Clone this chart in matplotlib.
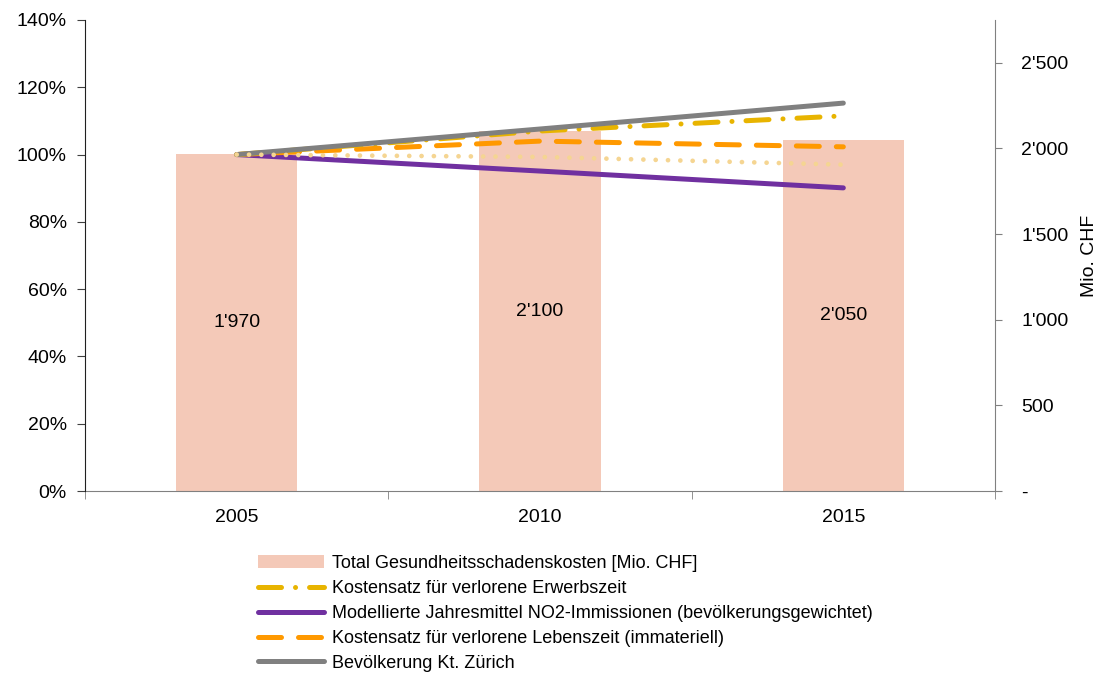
import matplotlib
matplotlib.use("Agg")
import matplotlib.pyplot as plt
from matplotlib.ticker import FuncFormatter, FixedLocator

plt.rcParams['font.family'] = ['Liberation Sans', 'DejaVu Sans']

years = ["2005", "2010", "2015"]
kosten = [1970, 2100, 2050]
kosten_labels = ["1'970", "2'100", "2'050"]
erwerbszeit = [1.00, 1.070, 1.115]
no2 = [1.00, 0.951, 0.901]
lebenszeit = [1.00, 1.040, 1.023]
dotted_series = [1.00, 0.993, 0.970]
bevoelkerung = [1.00, 1.076, 1.153]

labels = ["Total Gesundheitsschadenskosten [Mio. CHF]",
          "Kostensatz für verlorene Erwerbszeit",
          "Modellierte Jahresmittel NO2-Immissionen (bevölkerungsgewichtet)",
          "Kostensatz für verlorene Lebenszeit (immateriell)",
          "Bevölkerung Kt. Zürich"]

FS = 14
fig = plt.figure(figsize=(11, 6.74), dpi=100)
ax = fig.add_axes([85/1100, 1-491/674, 910/1100, 471/674])
x = list(range(len(years)))

bars = ax.bar(x, kosten, width=0.4, color='#F4C9B8', zorder=1, label=labels[0])
for xi, v, t in zip(x, kosten, kosten_labels):
    ax.text(xi, v/2, t, ha='center', va='center', fontsize=FS, color='black')
ax.set_ylim(0, 2750)
ax.set_xlim(-0.5, 2.5)
ax.set_xticks(x)
ax.set_xticklabels(years)
ax.tick_params(axis='x', which='major', length=0, labelsize=FS, pad=13)
ax.xaxis.set_minor_locator(FixedLocator([-0.5, 0.5, 1.5, 2.5]))
ax.tick_params(axis='x', which='minor', length=6, color='#808080', direction='out')
for s in ['top', 'left']:
    ax.spines[s].set_visible(False)
ax.spines['right'].set_color('#808080')
ax.spines['bottom'].set_color('#808080')

ax2 = ax.twinx()

# right axis (bars, Mio. CHF)
ax.yaxis.tick_right()
ax.yaxis.set_label_position('right')
ax.set_yticks([0, 500, 1000, 1500, 2000, 2500])
def rfmt(v, p):
    if v == 0:
        return "-"
    return f"{int(v):,}".replace(",", "'")
ax.yaxis.set_major_formatter(FuncFormatter(rfmt))
ax.set_ylabel("Mio. CHF", fontsize=FS, labelpad=9)
ax.tick_params(axis='y', direction='out', length=5, color='#808080', labelsize=FS, pad=14)

# left axis (percent lines)
ax2.yaxis.tick_left()
ax2.set_ylim(0, 1.4)
ax2.set_yticks([0, 0.2, 0.4, 0.6, 0.8, 1.0, 1.2, 1.4])
ax2.yaxis.set_major_formatter(FuncFormatter(lambda v, p: f"{v*100:.0f}%"))
ax2.tick_params(axis='y', direction='out', length=6, color='#404040', labelsize=FS, pad=7)
for s in ['top', 'right', 'bottom']:
    ax2.spines[s].set_visible(False)
ax2.spines['left'].set_visible(True)
ax2.spines['left'].set_color('#202020')

lw = 3.6
l_no2, = ax2.plot(x, no2, color='#7030A0', lw=lw, solid_capstyle='round', zorder=3, label=labels[2])
l_leb, = ax2.plot(x, lebenszeit, color='#FF9900', lw=lw, linestyle=(0, (4.6, 3.4)),
                  dash_capstyle='round', zorder=4, label=labels[3])
l_erw, = ax2.plot(x, erwerbszeit, color='#E8B400', lw=lw, linestyle=(0, (4.6, 2.8, 0.01, 2.8)),
                  dash_capstyle='round', zorder=5, label=labels[1])
l_bev, = ax2.plot(x, bevoelkerung, color='#808080', lw=lw, solid_capstyle='round', zorder=6, label=labels[4])
l_dot, = ax2.plot(x, dotted_series, color='#F5D592', lw=3.4, linestyle=(0, (0.01, 2.6)),
                  dash_capstyle='round', zorder=7)

fig.legend([bars, l_erw, l_no2, l_leb, l_bev], labels, loc='upper left',
           bbox_to_anchor=(258/1100, 1-555/674), frameon=False, fontsize=13,
           handlelength=3.67, handletextpad=0.45, labelspacing=0.44, borderaxespad=0,
           borderpad=0)

fig.savefig("out.png", dpi=100)
